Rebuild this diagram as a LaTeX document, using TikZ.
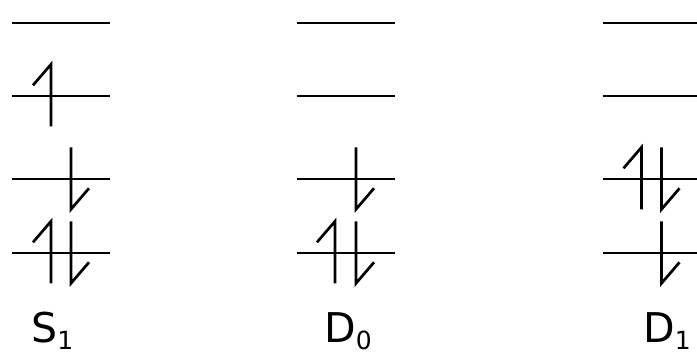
\documentclass[tikz,border=0pt]{standalone}
\usepackage{fontspec}
\setmainfont{DejaVu Sans}
\usepackage{tikz}
\usetikzlibrary{positioning}

% half-arrow spins, centred on a level at (x,y)
\newcommand{\spinup}[2]{\draw[spin] (#1,#2+30) -- (#1,#2-32) -- ++(-18,21);}
\newcommand{\spindown}[2]{\draw[spin] (#1,#2-32) -- (#1,#2+30) -- ++(18,-21);}
\newcommand{\subidx}[1]{\raisebox{-0.16em}{\fontsize{12.5}{14}\selectfont #1}}

\begin{document}
\begin{tikzpicture}[
          x=0.5pt, y=-0.5pt,
          level/.style={line width=1pt},
          spin/.style={line width=1.35pt, line join=miter},
          state/.style={anchor=base west, inner sep=0pt, font=\fontsize{20.5}{24}\selectfont}
      ]
        \useasboundingbox (0,0) rectangle (697,352);
        % orbital levels of the three states
        \foreach \cx in {61,345.5,651.5}
          \foreach \ly in {22.7,96.3,179.3,253.3}
            \draw[level] (\cx-49,\ly) -- (\cx+49,\ly);
        % S1
        \spinup{51}{96.3}
        \spindown{71}{179.3}
        \spinup{51}{253.3}
        \spindown{71}{253.3}
        % D0
        \spindown{356}{179.3}
        \spinup{335}{253.3}
        \spindown{356}{253.3}
        % D1
        \spinup{641.5}{179.3}
        \spindown{661.5}{179.3}
        \spindown{661.5}{253.3}
        % state labels
        \node[state] (s1) at (31,343) {S\subidx{1}};
        \node[state] (d0) at (324,343) {D\subidx{0}};
        \node[state] (d1) at (643,343) {D\subidx{1}};
      \end{tikzpicture}
\end{document}
